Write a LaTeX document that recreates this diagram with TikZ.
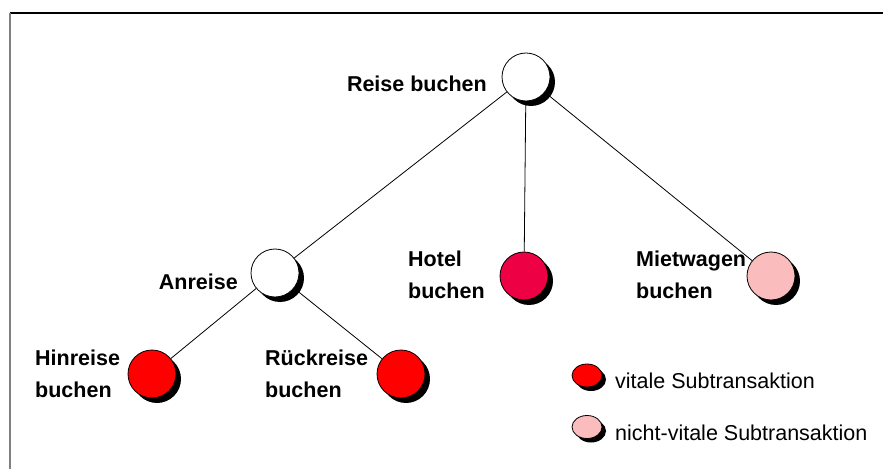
\documentclass[tikz,border=0pt]{standalone}
\usepackage{fontspec}
\setmainfont{Liberation Sans}
\usetikzlibrary{shadows,shapes.geometric}
\definecolor{vital}{RGB}{255,0,0}
\definecolor{hotelred}{RGB}{238,0,68}
\definecolor{nonvital}{RGB}{250,188,188}
\definecolor{framegray}{RGB}{128,128,128}
\begin{document}
\begin{tikzpicture}[x=1pt,y=1pt,
  task/.style={circle,draw=black,line width=0.8pt,minimum size=48pt,inner sep=0pt,
    drop shadow={shadow xshift=5pt,shadow yshift=-5pt,fill=black,opacity=1}},
  legdot/.style={ellipse,draw=black,line width=0.8pt,minimum width=30pt,minimum height=23pt,inner sep=0pt,
    drop shadow={shadow xshift=4pt,shadow yshift=-4pt,fill=black,opacity=1}},
  lbl/.style={font=\fontsize{21.5}{26}\selectfont\bfseries,inner sep=0pt},
  leg/.style={font=\fontsize{21.5}{26}\selectfont,inner sep=0pt},
  edge/.style={draw=black,line width=0.8pt}]
\useasboundingbox (0,0) rectangle (883,469);
\fill[white] (0,0) rectangle (883,469);
% frame
\coordinate (ftl) at (9.5,456);
\coordinate (ftr) at (883,456);
\coordinate (fbl) at (9.5,0);
\draw[black,line width=1.3pt] (ftl) -- (ftr);
\draw[framegray,line width=2pt] (ftl) -- (fbl);
% nodes
\node[task,fill=white] (reise) at (526,392) {};
\node[task,fill=white] (anreise) at (275,196) {};
\node[task,fill=hotelred] (hotel) at (524,193) {};
\node[task,fill=nonvital] (miet) at (771,193) {};
\node[task,fill=vital] (hin) at (152,95) {};
\node[task,fill=vital] (rueck) at (401,95) {};
% connectors
\draw[edge] (reise) -- (anreise);
\draw[edge] (reise) -- (hotel);
\draw[edge] (reise) -- (miet);
\draw[edge] (anreise) -- (hin);
\draw[edge] (anreise) -- (rueck);
% labels
\node[lbl,anchor=base east] (lreise) at (487,377) {Reise buchen};
\node[lbl,anchor=base east] (lanreise) at (238,180) {Anreise};
\node[lbl,anchor=base west] (lhotelA) at (408,203) {Hotel};
\node[lbl,anchor=base west] (lhotelB) at (408,171) {buchen};
\node[lbl,anchor=base west] (lmietA) at (636,203) {Mietwagen};
\node[lbl,anchor=base west] (lmietB) at (636,171) {buchen};
\node[lbl,anchor=base west] (lhinA) at (35,104) {Hinreise};
\node[lbl,anchor=base west] (lhinB) at (35,72) {buchen};
\node[lbl,anchor=base west] (lrueckA) at (265,104) {Rückreise};
\node[lbl,anchor=base west] (lrueckB) at (265,72) {buchen};
% legend
\node[legdot,fill=vital] (legv) at (587,93.5) {};
\node[legdot,fill=nonvital] (legn) at (587,42) {};
\node[leg,anchor=base west] (legvt) at (615,81) {vitale Subtransaktion};
\node[leg,anchor=base west] (legnt) at (615,29) {nicht-vitale Subtransaktion};
\end{tikzpicture}
\end{document}
